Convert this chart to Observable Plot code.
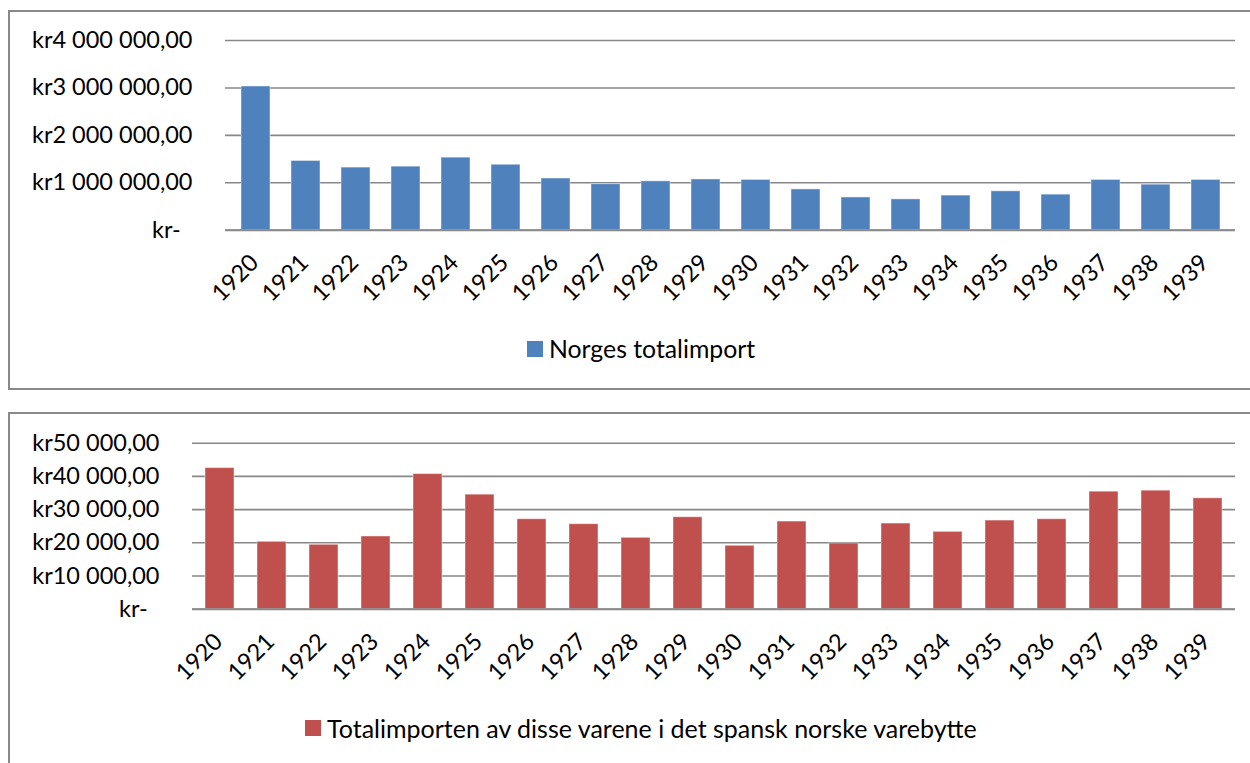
<!DOCTYPE html>
<html><head><meta charset="utf-8">
<script src="https://cdn.jsdelivr.net/npm/d3@7"></script>
<script src="https://cdn.jsdelivr.net/npm/@observablehq/plot@0.6"></script>
<style>
body{margin:0;background:#fff;width:1250px;height:763px;overflow:hidden;position:relative;font-family:Lato,sans-serif;}
.frame{position:absolute;border:2px solid #898989;box-sizing:border-box;}
.chart{position:absolute;left:0;}
.legend{position:absolute;font-size:24.8px;line-height:28px;color:#000;display:flex;align-items:center;white-space:nowrap;}
.legend .sw{width:16px;height:16px;margin-right:6px;}
</style></head><body>
<div class="frame" style="left:8px;top:10px;width:1260px;height:380px"></div>
<div class="frame" style="left:8px;top:412px;width:1260px;height:370px"></div>
<div id="c1" class="chart" style="top:0"></div>
<div id="c2" class="chart" style="top:400px"></div>
<div class="legend" style="left:527px;top:335px"><div class="sw" style="background:#4F81BD"></div><span id="t1"></span></div>
<div class="legend" style="left:305px;top:714px"><div class="sw" style="background:#C0504D"></div><span id="t2" style="font-size:25px"></span></div>
<script>
const years = ["1920","1921","1922","1923","1924","1925","1926","1927","1928","1929","1930","1931","1932","1933","1934","1935","1936","1937","1938","1939"];
const totalImport = [3030000,1460000,1320000,1340000,1530000,1380000,1090000,970000,1030000,1070000,1060000,860000,690000,650000,730000,820000,750000,1060000,960000,1060000];
const spanishTrade = [42500,20300,19400,21900,40700,34500,27100,25600,21500,27700,19100,26400,19800,25800,23300,26700,27100,35400,35700,33400];
const topTicks = [0,1000000,2000000,3000000,4000000];
const bottomTicks = [0,10000,20000,30000,40000,50000];
const seriesNames = ["Norges totalimport","Totalimporten av disse varene i det spansk norske varebytte"];
const colors = ["#4F81BD","#C0504D"];

const loc = d3.formatLocale({decimal:",", thousands:"\u00a0", grouping:[3], currency:["kr",""]});
const f = loc.format(",.2f");
const fmt = d => d === 0 ? "kr-\u2002" : "kr" + f(d);

function chart(o){
  const data = years.map((y,i)=>({year:y, value:o.values[i]}));
  return Plot.plot({
    width:1250, height:o.height, marginLeft:o.marginLeft, marginRight:15,
    marginTop:o.marginTop, marginBottom:o.marginBottom,
    style:{fontFamily:"Lato, sans-serif", fontSize:"23.5px", color:"#000", background:"transparent", overflow:"visible"},
    x:{domain:years, paddingInner:o.pi, paddingOuter:o.po, axis:null},
    y:{domain:[0,o.yMax], ticks:o.ticks, tickFormat:fmt, tickSize:0, tickPadding:33, label:null},
    marks:[
      Plot.ruleY(o.ticks, {stroke:"#888", strokeWidth:1.6}),
      Plot.barY(data, {x:"year", y:"value", fill:o.color, stroke:"white", strokeOpacity:0.45, strokeWidth:1}),
      Plot.ruleY([0], {stroke:"#888", strokeWidth:2}),
      Plot.text(years, {x:d=>d, frameAnchor:"bottom", rotate:-45, textAnchor:"end", lineAnchor:"bottom", dx:4, dy:34, fontSize:23.5})
    ]
  });
}
document.getElementById("c1").appendChild(chart({values:totalImport, color:colors[0], yMax:4000000, ticks:topTicks, marginLeft:225, marginTop:40, height:320, marginBottom:90.3, pi:0.43, po:0.215}));
document.getElementById("c2").appendChild(chart({values:spanishTrade, color:colors[1], yMax:50000, ticks:bottomTicks, marginLeft:192, marginTop:42.7, height:300, marginBottom:91.3, pi:0.44, po:0.22}));
document.getElementById("t1").textContent = seriesNames[0];
document.getElementById("t2").textContent = seriesNames[1];
</script>
</body></html>
